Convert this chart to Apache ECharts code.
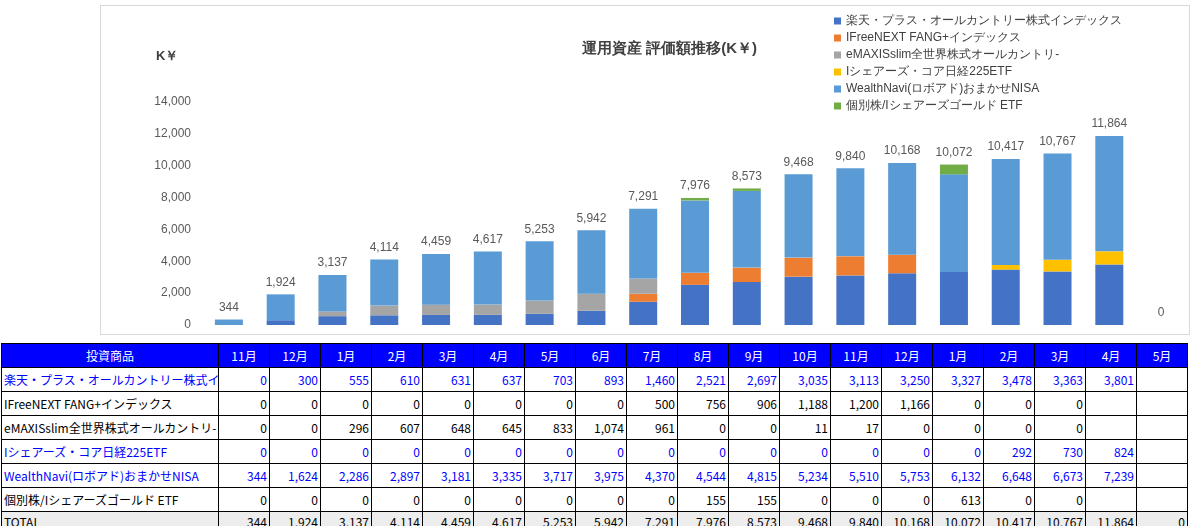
<!DOCTYPE html>
<html><head><meta charset="utf-8">
<script src="https://cdn.jsdelivr.net/npm/echarts@6/dist/echarts.min.js"></script>
<style>
body{margin:0;width:1200px;height:526px;background:#fff;font-family:"Noto Sans CJK JP","Noto Sans",sans-serif;position:relative;overflow:hidden}
#chart{position:absolute;left:100px;top:5px;width:1090px;height:330px;border:1px solid #d9d9d9;box-sizing:border-box}
table{position:absolute;left:1px;top:343px;width:1186px;border-collapse:collapse;font-size:12px;table-layout:fixed}
td{border:1px solid #000;height:24px;padding:0 2px;text-align:right;white-space:nowrap;overflow:hidden;box-sizing:border-box}
td.n{text-align:left}
tr.h td{background:#0000ff;color:#fff;text-align:center;height:24px}
tr.b td{color:#0000ff}
tr.t td{background:#ededed;height:20px}
</style></head><body>
<div id="chart"></div>
<table id="tbl"></table>
<script>
const months = ['11月','12月','1月','2月','3月','4月','5月','6月','7月','8月','9月','10月','11月','12月','1月','2月','3月','4月','5月'];
const names = ['楽天・プラス・オールカントリー株式インデックス','IFreeNEXT FANG+インデックス','eMAXISslim全世界株式オールカントリ-','Iシェアーズ・コア日経225ETF','WealthNavi(ロボアド)おまかせNISA','個別株/Iシェアーズゴールド ETF'];
const rakuten = [0,300,555,610,631,637,703,893,1460,2521,2697,3035,3113,3250,3327,3478,3363,3801,null];
const fang = [0,0,0,0,0,0,0,0,500,756,906,1188,1200,1166,0,0,0,null,null];
const emaxis = [0,0,296,607,648,645,833,1074,961,0,0,11,17,0,0,0,0,null,null];
const nikkei = [0,0,0,0,0,0,0,0,0,0,0,0,0,0,0,292,730,824,null];
const wealth = [344,1624,2286,2897,3181,3335,3717,3975,4370,4544,4815,5234,5510,5753,6132,6648,6673,7239,null];
const gold = [0,0,0,0,0,0,0,0,0,155,155,0,0,0,613,0,0,null,null];
const totals = [344,1924,3137,4114,4459,4617,5253,5942,7291,7976,8573,9468,9840,10168,10072,10417,10767,11864,0];
const colors = ['#4472c4','#ed7d31','#a5a5a5','#ffc000','#5b9bd5','#70ad47'];
const seriesData = [rakuten,fang,emaxis,nikkei,wealth,gold];

const chart = echarts.init(document.getElementById('chart'));
const series = seriesData.map((d,i)=>({
  name: names[i], type:'bar', stack:'a', barWidth:28, data:d.map(v=>v==null?0:v),
  itemStyle:{color:colors[i]}
}));
series.push({
  name:'total', type:'bar', stack:'a', barWidth:28, data:totals.map(()=>0),
  label:{show:true,position:'top',color:'#595959',fontSize:12,distance:6,
    formatter:p=>totals[p.dataIndex].toLocaleString('en-US')}
});
chart.setOption({
  animation:false,
  title:{text:'運用資産 評価額推移(K￥)',left:476,top:30,textStyle:{fontSize:15,fontWeight:'bold',color:'#404040'}},
  graphic:[{type:'text',left:55,top:44,style:{text:'K￥',fontSize:13,fontWeight:'bold',fill:'#404040'}}],
  legend:{orient:'vertical',left:728,top:4,itemWidth:7,itemHeight:7,itemGap:5,icon:'rect',
    data:names,textStyle:{fontSize:12,color:'#404040'}},
  grid:{left:102,right:2,top:96,bottom:9},
  xAxis:{type:'category',data:months,axisLabel:{show:false},axisTick:{show:false},axisLine:{show:false}},
  yAxis:{type:'value',min:0,max:14000,interval:2000,splitLine:{show:false},
    axisLabel:{color:'#595959',fontSize:12,formatter:v=>v.toLocaleString('en-US'),margin:12}},
  series
});

const fmt = v => v==null ? '' : v.toLocaleString('en-US');
const rowCls = ['b','','','b','b',''];
let html = '<colgroup><col style="width:217px">' + months.map(()=> '<col style="width:51px">').join('') + '</colgroup>';
html += '<tr class="h"><td>投資商品</td>' + months.map(m=>'<td>'+m+'</td>').join('') + '</tr>';
seriesData.forEach((d,i)=>{
  html += '<tr class="'+rowCls[i]+'"><td class="n">'+names[i]+'</td>' + d.map(v=>'<td>'+fmt(v)+'</td>').join('') + '</tr>';
});
html += '<tr class="t"><td class="n">TOTAL</td>' + totals.map(v=>'<td>'+fmt(v)+'</td>').join('') + '</tr>';
document.getElementById('tbl').innerHTML = html;
</script>
</body></html>
